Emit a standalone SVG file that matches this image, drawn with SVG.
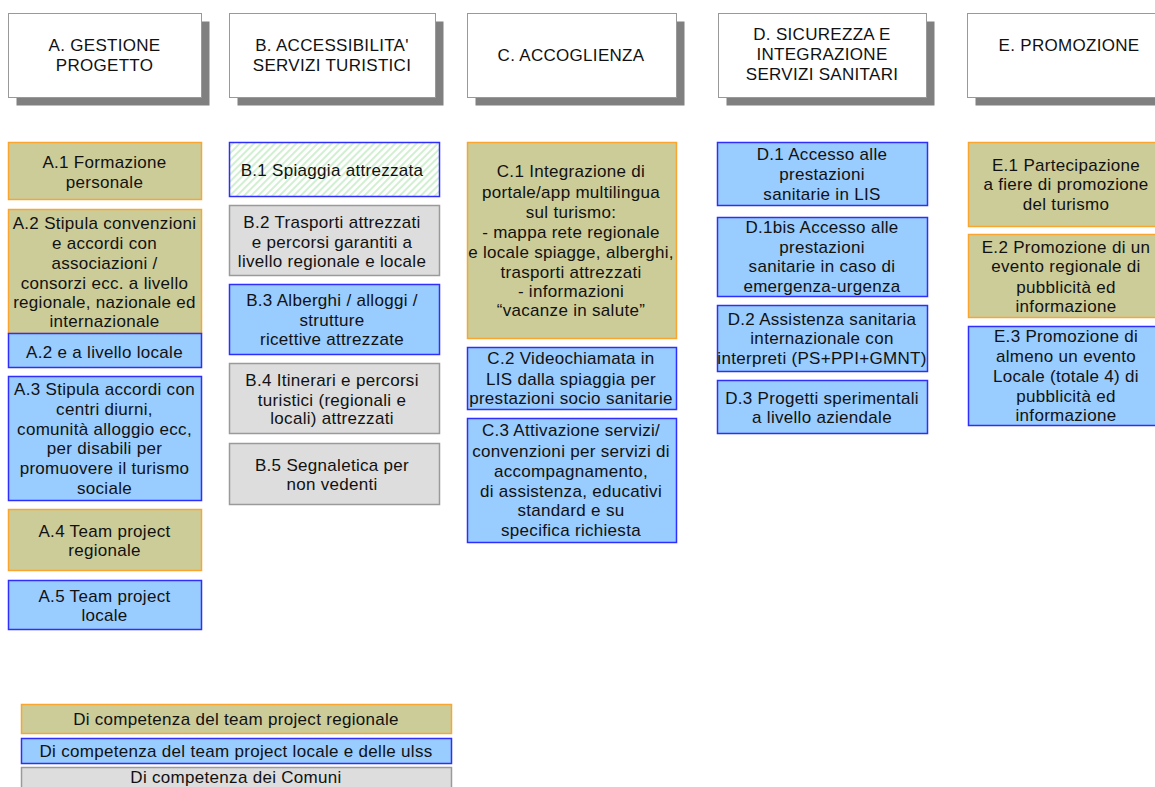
<svg xmlns="http://www.w3.org/2000/svg" width="1155" height="787" viewBox="0 0 1155 787">
<defs>
<pattern id="hatch" width="5" height="5" patternUnits="userSpaceOnUse" patternTransform="rotate(45)">
<rect width="5" height="5" fill="#ffffff"/>
<line x1="1" y1="0" x2="1" y2="5" stroke="#c6ebc6" stroke-width="1.6"/>
</pattern>
<style>
.sh{fill:#808080}
.hd{fill:#ffffff;stroke:#999999;stroke-width:1}
.reg{fill:#CCCC99;stroke:#F8A630;stroke-width:1.5}
.loc{fill:#99CCFF;stroke:#2E2EFF;stroke-width:1.5}
.com{fill:#DDDDDD;stroke:#9A9A9A;stroke-width:1.5}
.hat{fill:url(#hatch);stroke:#2E2EFF;stroke-width:1.5}
text{font-family:"Liberation Sans",Arial,sans-serif;font-size:17px;fill:#111111;text-anchor:middle;letter-spacing:0.3px}
</style>
</defs>
<rect width="1155" height="787" fill="#ffffff"/>
<g id="connectors"/>
<g id="hA"><rect class="sh" x="16.5" y="21.5" width="193" height="84"/><rect class="hd" x="8.5" y="13.5" width="193" height="84"/>
<text><tspan x="104.5" y="51">A. GESTIONE</tspan><tspan x="104.5" y="71">PROGETTO</tspan></text></g>
<g id="hB"><rect class="sh" x="237.5" y="21.5" width="206" height="84"/><rect class="hd" x="229.5" y="13.5" width="206" height="84"/>
<text><tspan x="332" y="51">B. ACCESSIBILITA'</tspan><tspan x="332" y="71">SERVIZI TURISTICI</tspan></text></g>
<g id="hC"><rect class="sh" x="475.5" y="21.5" width="209" height="84"/><rect class="hd" x="467.5" y="13.5" width="209" height="84"/>
<text><tspan x="571" y="61">C. ACCOGLIENZA</tspan></text></g>
<g id="hD"><rect class="sh" x="726.5" y="21.5" width="208" height="84"/><rect class="hd" x="718.5" y="13.5" width="208" height="84"/>
<text><tspan x="822" y="40">D. SICUREZZA E</tspan><tspan x="822" y="60">INTEGRAZIONE</tspan><tspan x="822" y="80">SERVIZI SANITARI</tspan></text></g>
<g id="hE"><rect class="sh" x="975.5" y="21.5" width="210" height="84"/><rect class="hd" x="967.5" y="13.5" width="210" height="84"/>
<text><tspan x="1069" y="51">E. PROMOZIONE</tspan></text></g>

<g id="A1"><rect class="reg" x="8.5" y="142.5" width="193" height="57"/><text><tspan x="104.5" y="168">A.1 Formazione</tspan><tspan x="104.5" y="188">personale</tspan></text></g>
<g id="A2"><rect class="reg" x="8.5" y="209.5" width="193" height="124"/><text><tspan x="104.5" y="229">A.2 Stipula convenzioni</tspan><tspan x="104.5" y="249">e accordi con</tspan><tspan x="104.5" y="269">associazioni /</tspan><tspan x="104.5" y="289">consorzi ecc. a livello</tspan><tspan x="104.5" y="308">regionale, nazionale ed</tspan><tspan x="104.5" y="327">internazionale</tspan></text></g>
<g id="A2loc"><rect class="loc" x="8.5" y="333.5" width="193" height="34"/><text><tspan x="104.5" y="358">A.2 e a livello locale</tspan></text></g>
<g id="A3"><rect class="loc" x="8.5" y="376.5" width="193" height="124"/><text><tspan x="104.5" y="395">A.3 Stipula accordi con</tspan><tspan x="104.5" y="415">centri diurni,</tspan><tspan x="104.5" y="435">comunità alloggio ecc,</tspan><tspan x="104.5" y="454">per disabili per</tspan><tspan x="104.5" y="474">promuovere il turismo</tspan><tspan x="104.5" y="494">sociale</tspan></text></g>
<g id="A4"><rect class="reg" x="8.5" y="509.5" width="193" height="61"/><text><tspan x="104.5" y="537">A.4 Team project</tspan><tspan x="104.5" y="556">regionale</tspan></text></g>
<g id="A5"><rect class="loc" x="8.5" y="580.5" width="193" height="49"/><text><tspan x="104.5" y="602">A.5 Team project</tspan><tspan x="104.5" y="621">locale</tspan></text></g>

<g id="B1"><rect class="hat" x="229.5" y="142.5" width="210" height="54"/><text><tspan x="332" y="176">B.1 Spiaggia attrezzata</tspan></text></g>
<g id="B2"><rect class="com" x="229.5" y="205.5" width="210" height="70"/><text><tspan x="332" y="228">B.2 Trasporti attrezzati</tspan><tspan x="332" y="248">e percorsi garantiti a</tspan><tspan x="332" y="267">livello regionale e locale</tspan></text></g>
<g id="B3"><rect class="loc" x="229.5" y="284.5" width="210" height="70"/><text><tspan x="332" y="306">B.3 Alberghi / alloggi /</tspan><tspan x="332" y="326">strutture</tspan><tspan x="332" y="345">ricettive attrezzate</tspan></text></g>
<g id="B4"><rect class="com" x="229.5" y="363.5" width="210" height="70"/><text><tspan x="332" y="386">B.4 Itinerari e percorsi</tspan><tspan x="332" y="406">turistici (regionali e</tspan><tspan x="332" y="424">locali) attrezzati</tspan></text></g>
<g id="B5"><rect class="com" x="229.5" y="443.5" width="210" height="61"/><text><tspan x="332" y="471">B.5 Segnaletica per</tspan><tspan x="332" y="490">non vedenti</tspan></text></g>

<g id="C1"><rect class="reg" x="467.5" y="142.5" width="209" height="196"/><text><tspan x="571" y="177">C.1 Integrazione di</tspan><tspan x="571" y="198">portale/app multilingua</tspan><tspan x="571" y="218">sul turismo:</tspan><tspan x="571" y="238">- mappa rete regionale</tspan><tspan x="571" y="258">e locale spiagge, alberghi,</tspan><tspan x="571" y="278">trasporti attrezzati</tspan><tspan x="571" y="297">- informazioni</tspan><tspan x="571" y="316">“vacanze in salute”</tspan></text></g>
<g id="C2"><rect class="loc" x="467.5" y="347.5" width="209" height="62"/><text><tspan x="571" y="364">C.2 Videochiamata in</tspan><tspan x="571" y="385">LIS dalla spiaggia per</tspan><tspan x="571" y="404">prestazioni socio sanitarie</tspan></text></g>
<g id="C3"><rect class="loc" x="467.5" y="418.5" width="209" height="124"/><text><tspan x="571" y="436">C.3 Attivazione servizi/</tspan><tspan x="571" y="457">convenzioni per servizi di</tspan><tspan x="571" y="477">accompagnamento,</tspan><tspan x="571" y="497">di assistenza, educativi</tspan><tspan x="571" y="516">standard e su</tspan><tspan x="571" y="536">specifica richiesta</tspan></text></g>

<g id="D1"><rect class="loc" x="717.5" y="142.5" width="210" height="63"/><text><tspan x="822" y="160">D.1 Accesso alle</tspan><tspan x="822" y="180">prestazioni</tspan><tspan x="822" y="200">sanitarie in LIS</tspan></text></g>
<g id="D1bis"><rect class="loc" x="717.5" y="217.5" width="210" height="79"/><text><tspan x="822" y="233">D.1bis Accesso alle</tspan><tspan x="822" y="253">prestazioni</tspan><tspan x="822" y="272">sanitarie in caso di</tspan><tspan x="822" y="292">emergenza-urgenza</tspan></text></g>
<g id="D2"><rect class="loc" x="717.5" y="305.5" width="210" height="66"/><text><tspan x="822" y="325">D.2 Assistenza sanitaria</tspan><tspan x="822" y="344">internazionale con</tspan><tspan x="822" y="364">interpreti (PS+PPI+GMNT)</tspan></text></g>
<g id="D3"><rect class="loc" x="717.5" y="380.5" width="210" height="53"/><text><tspan x="822" y="404">D.3 Progetti sperimentali</tspan><tspan x="822" y="423">a livello aziendale</tspan></text></g>

<g id="E1"><rect class="reg" x="968.5" y="142.5" width="210" height="84"/><text><tspan x="1066" y="171">E.1 Partecipazione</tspan><tspan x="1066" y="190">a fiere di promozione</tspan><tspan x="1066" y="210">del turismo</tspan></text></g>
<g id="E2"><rect class="reg" x="968.5" y="234.5" width="210" height="83"/><text><tspan x="1066" y="253">E.2 Promozione di un</tspan><tspan x="1066" y="272">evento regionale di</tspan><tspan x="1066" y="293">pubblicità ed</tspan><tspan x="1066" y="312">informazione</tspan></text></g>
<g id="E3"><rect class="loc" x="968.5" y="326.5" width="210" height="99"/><text><tspan x="1066" y="342">E.3 Promozione di</tspan><tspan x="1066" y="362">almeno un evento</tspan><tspan x="1066" y="382">Locale (totale 4) di</tspan><tspan x="1066" y="402">pubblicità ed</tspan><tspan x="1066" y="421">informazione</tspan></text></g>

<g id="legend-reg"><rect class="reg" x="21.5" y="704.5" width="430" height="29"/><text><tspan x="236" y="725">Di competenza del team project regionale</tspan></text></g>
<g id="legend-loc"><rect class="loc" x="21.5" y="738.5" width="430" height="25"/><text><tspan x="236" y="757">Di competenza del team project locale e delle ulss</tspan></text></g>
<g id="legend-com"><rect class="com" x="21.5" y="767.5" width="430" height="30"/><text><tspan x="236" y="783">Di competenza dei Comuni</tspan></text></g>
</svg>
